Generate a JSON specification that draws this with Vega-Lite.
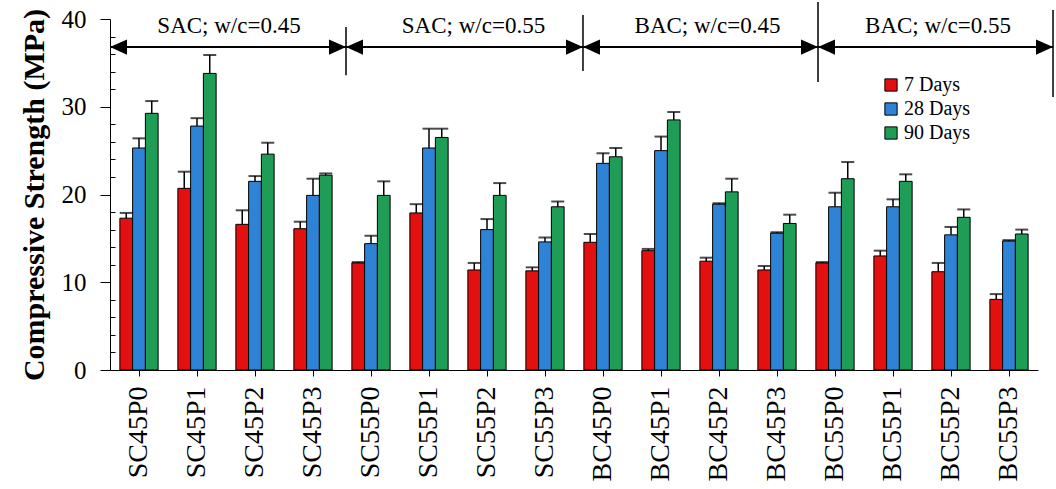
{
  "$schema": "https://vega.github.io/schema/vega-lite/v6.json",
  "width": 928,
  "height": 351,
  "autosize": {"type": "none"},
  "padding": {"left": 110, "top": 19, "right": 18, "bottom": 119},
  "config": {
    "view": {"stroke": null},
    "font": "Liberation Serif",
    "axis": {"labelFont": "Liberation Serif", "titleFont": "Liberation Serif", "domainColor": "#000000", "tickColor": "#000000", "labelColor": "#000000", "titleColor": "#000000", "grid": false},
    "legend": {"labelFont": "Liberation Serif", "labelColor": "#000000"}
  },
  "datasets": {
    "strength": [
      {"mix": "SC45P0", "age": "7 Days", "value": 17.3, "upper": 17.9},
      {"mix": "SC45P0", "age": "28 Days", "value": 25.3, "upper": 26.4},
      {"mix": "SC45P0", "age": "90 Days", "value": 29.25, "upper": 30.65},
      {"mix": "SC45P1", "age": "7 Days", "value": 20.7, "upper": 22.6},
      {"mix": "SC45P1", "age": "28 Days", "value": 27.8, "upper": 28.7},
      {"mix": "SC45P1", "age": "90 Days", "value": 33.8, "upper": 35.9},
      {"mix": "SC45P2", "age": "7 Days", "value": 16.6, "upper": 18.2},
      {"mix": "SC45P2", "age": "28 Days", "value": 21.5, "upper": 22.1},
      {"mix": "SC45P2", "age": "90 Days", "value": 24.6, "upper": 25.9},
      {"mix": "SC45P3", "age": "7 Days", "value": 16.1, "upper": 16.9},
      {"mix": "SC45P3", "age": "28 Days", "value": 19.9, "upper": 21.8},
      {"mix": "SC45P3", "age": "90 Days", "value": 22.2, "upper": 22.4},
      {"mix": "SC55P0", "age": "7 Days", "value": 12.2, "upper": 12.3},
      {"mix": "SC55P0", "age": "28 Days", "value": 14.4, "upper": 15.3},
      {"mix": "SC55P0", "age": "90 Days", "value": 19.9, "upper": 21.5},
      {"mix": "SC55P1", "age": "7 Days", "value": 17.9, "upper": 18.9},
      {"mix": "SC55P1", "age": "28 Days", "value": 25.3, "upper": 27.5},
      {"mix": "SC55P1", "age": "90 Days", "value": 26.5, "upper": 27.5},
      {"mix": "SC55P2", "age": "7 Days", "value": 11.4, "upper": 12.2},
      {"mix": "SC55P2", "age": "28 Days", "value": 16.0, "upper": 17.2},
      {"mix": "SC55P2", "age": "90 Days", "value": 19.9, "upper": 21.3},
      {"mix": "SC55P3", "age": "7 Days", "value": 11.3, "upper": 11.7},
      {"mix": "SC55P3", "age": "28 Days", "value": 14.6, "upper": 15.1},
      {"mix": "SC55P3", "age": "90 Days", "value": 18.6, "upper": 19.2},
      {"mix": "BC45P0", "age": "7 Days", "value": 14.55, "upper": 15.5},
      {"mix": "BC45P0", "age": "28 Days", "value": 23.55, "upper": 24.7},
      {"mix": "BC45P0", "age": "90 Days", "value": 24.3, "upper": 25.3},
      {"mix": "BC45P1", "age": "7 Days", "value": 13.6, "upper": 13.8},
      {"mix": "BC45P1", "age": "28 Days", "value": 25.0, "upper": 26.6},
      {"mix": "BC45P1", "age": "90 Days", "value": 28.5, "upper": 29.4},
      {"mix": "BC45P2", "age": "7 Days", "value": 12.4, "upper": 12.8},
      {"mix": "BC45P2", "age": "28 Days", "value": 18.9, "upper": 19.0},
      {"mix": "BC45P2", "age": "90 Days", "value": 20.3, "upper": 21.8},
      {"mix": "BC45P3", "age": "7 Days", "value": 11.4, "upper": 11.85},
      {"mix": "BC45P3", "age": "28 Days", "value": 15.6, "upper": 15.7},
      {"mix": "BC45P3", "age": "90 Days", "value": 16.7, "upper": 17.7},
      {"mix": "BC55P0", "age": "7 Days", "value": 12.2, "upper": 12.3},
      {"mix": "BC55P0", "age": "28 Days", "value": 18.6, "upper": 20.2},
      {"mix": "BC55P0", "age": "90 Days", "value": 21.8, "upper": 23.7},
      {"mix": "BC55P1", "age": "7 Days", "value": 13.0, "upper": 13.6},
      {"mix": "BC55P1", "age": "28 Days", "value": 18.6, "upper": 19.45},
      {"mix": "BC55P1", "age": "90 Days", "value": 21.5, "upper": 22.3},
      {"mix": "BC55P2", "age": "7 Days", "value": 11.2, "upper": 12.2},
      {"mix": "BC55P2", "age": "28 Days", "value": 15.4, "upper": 16.3},
      {"mix": "BC55P2", "age": "90 Days", "value": 17.4, "upper": 18.3},
      {"mix": "BC55P3", "age": "7 Days", "value": 8.05, "upper": 8.65},
      {"mix": "BC55P3", "age": "28 Days", "value": 14.7, "upper": 14.8},
      {"mix": "BC55P3", "age": "90 Days", "value": 15.5, "upper": 16.0}
    ],
    "series": [
      {"label": "SAC; w/c=0.45", "start": 0, "end": 4.069, "mid": 2.052, "top": 39.09, "bottom": 33.6},
      {"label": "SAC; w/c=0.55", "start": 4.069, "end": 8.155, "mid": 6.267, "top": 40.46, "bottom": 34.07},
      {"label": "BAC; w/c=0.45", "start": 8.155, "end": 12.207, "mid": 10.302, "top": 41.94, "bottom": 32.82},
      {"label": "BAC; w/c=0.55", "start": 12.207, "end": 16.259, "mid": 14.276, "top": 41.03, "bottom": 31.11}
    ]
  },
  "layer": [
    {
      "data": {"name": "strength"},
      "encoding": {
        "x": {
          "field": "mix", "type": "nominal", "sort": null,
          "scale": {"paddingInner": 0.34, "paddingOuter": 0.17},
          "axis": {"title": null, "labelAngle": 270, "labelFontSize": 28, "labelPadding": 10, "tickSize": 6, "labelBaseline": "middle"}
        },
        "xOffset": {"field": "age", "type": "nominal", "sort": ["7 Days", "28 Days", "90 Days"], "scale": {"paddingInner": 0}}
      },
      "layer": [
        {
          "mark": {"type": "bar", "stroke": "#000000", "strokeWidth": 1},
          "encoding": {
            "y": {
              "field": "value", "type": "quantitative",
              "scale": {"domain": [0, 40], "nice": false},
              "axis": {
                "title": "Compressive Strength (MPa)",
                "titleFontSize": 30, "titleFontWeight": "bold", "titlePadding": 12,
                "values": [0, 10, 20, 30, 40],
                "labelFontSize": 25, "labelPadding": 14, "labelOverlap": false,
                "tickSize": 10
              }
            },
            "color": {
              "field": "age", "type": "nominal", "sort": ["7 Days", "28 Days", "90 Days"],
              "scale": {"domain": ["7 Days", "28 Days", "90 Days"], "range": ["#e31010", "#2f83d6", "#1f9d57"]},
              "legend": {
                "title": null, "orient": "none", "legendX": 771, "legendY": 56,
                "symbolType": "square", "symbolSize": 150, "symbolStrokeColor": "#000000", "symbolStrokeWidth": 1,
                "labelFontSize": 20, "labelOffset": 3, "rowPadding": 4, "padding": 0
              }
            }
          }
        },
        {
          "mark": {"type": "rule", "color": "#000000", "strokeWidth": 1.5},
          "encoding": {
            "y": {"field": "value", "type": "quantitative"},
            "y2": {"field": "upper"}
          }
        },
        {
          "mark": {"type": "tick", "orient": "horizontal", "color": "#000000", "size": 13, "thickness": 2},
          "encoding": {
            "y": {"field": "upper", "type": "quantitative"}
          }
        }
      ]
    },
    {
      "data": {"name": "series"},
      "encoding": {
        "y": {
          "field": "top", "type": "quantitative",
          "axis": {
            "orient": "left", "title": null, "labels": false, "domain": false,
            "values": [2, 4, 6, 8, 12, 14, 16, 18, 22, 24, 26, 28, 32, 34, 36, 38],
            "tickSize": -5
          }
        }
      },
      "layer": [
        {
          "mark": {"type": "rule", "color": "#000000", "strokeWidth": 1.5},
          "encoding": {
            "x": {"field": "end", "type": "quantitative", "scale": {"domain": [0, 16], "nice": false, "zero": false}, "axis": null},
            "y2": {"field": "bottom"}
          }
        },
        {
          "mark": {"type": "rule", "color": "#000000", "strokeWidth": 2},
          "encoding": {
            "x": {"field": "start", "type": "quantitative"},
            "x2": {"field": "end"},
            "y": {"datum": 36.8, "type": "quantitative"}
          }
        },
        {
          "mark": {"type": "point", "shape": "M 0 0 L 2 -0.9 L 2 0.9 Z", "size": 289, "filled": true, "color": "#000000", "opacity": 1},
          "encoding": {
            "x": {"field": "start", "type": "quantitative"},
            "y": {"datum": 36.8, "type": "quantitative"}
          }
        },
        {
          "mark": {"type": "point", "shape": "M 0 0 L -2 -0.9 L -2 0.9 Z", "size": 289, "filled": true, "color": "#000000", "opacity": 1},
          "encoding": {
            "x": {"field": "end", "type": "quantitative"},
            "y": {"datum": 36.8, "type": "quantitative"}
          }
        },
        {
          "mark": {"type": "text", "font": "Liberation Serif", "fontSize": 23, "baseline": "middle", "align": "center", "color": "#000000"},
          "encoding": {
            "x": {"field": "mid", "type": "quantitative"},
            "y": {"datum": 39.2, "type": "quantitative"},
            "text": {"field": "label"}
          }
        }
      ]
    }
  ],
  "resolve": {"scale": {"x": "independent"}, "axis": {"y": "independent"}}
}
